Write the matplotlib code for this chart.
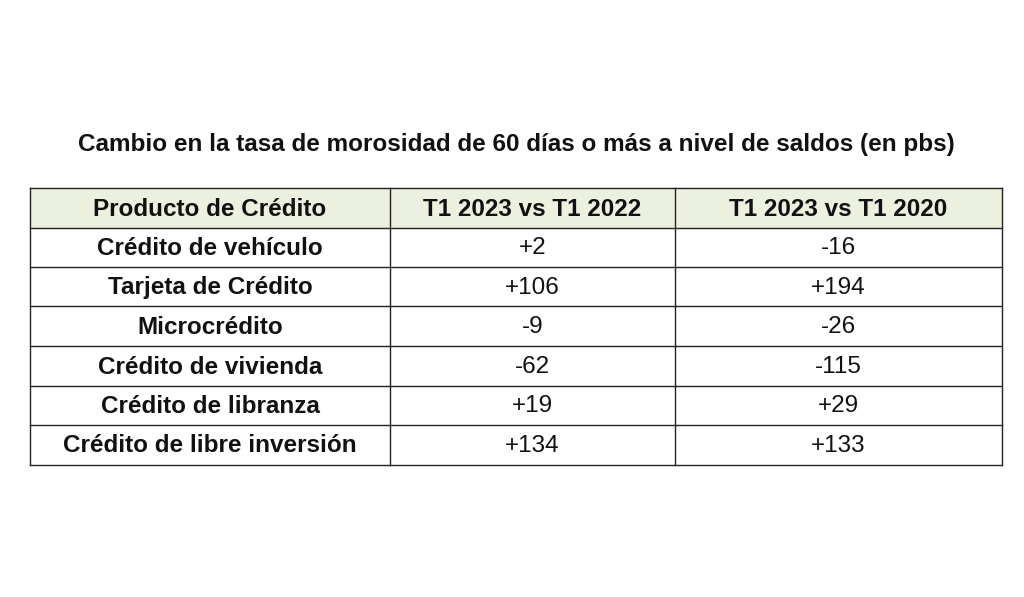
import matplotlib.pyplot as plt

title = "Cambio en la tasa de morosidad de 60 días o más a nivel de saldos (en pbs)"
headers = ["Producto de Crédito", "T1 2023 vs T1 2022", "T1 2023 vs T1 2020"]
products = ["Crédito de vehículo", "Tarjeta de Crédito", "Microcrédito",
            "Crédito de vivienda", "Crédito de libranza", "Crédito de libre inversión"]
vs_2022 = ["+2", "+106", "-9", "-62", "+19", "+134"]
vs_2020 = ["-16", "+194", "-26", "-115", "+29", "+133"]

plt.rcParams['font.family'] = ['Liberation Sans', 'DejaVu Sans']

fig = plt.figure(figsize=(10.24, 5.97), dpi=100)
ax = fig.add_axes([0, 0, 1, 1])
ax.set_xlim(0, 1024)
ax.set_ylim(597, 0)
ax.axis('off')

col_x = [30, 390, 675, 1002]
row_y = [188, 228, 267, 306, 346, 386, 425, 465]

ax.text(516, 144, title, ha='center', va='center', fontsize=17.5, fontweight='bold',
        color='#111111')
ax.fill_between([col_x[0], col_x[-1]], row_y[0], row_y[1], color='#ebf1de', zorder=0)

for x in col_x:
    ax.plot([x, x], [row_y[0], row_y[-1]], color='#222222', lw=1)
for y in row_y:
    ax.plot([col_x[0], col_x[-1]], [y, y], color='#222222', lw=1)

rows = [headers] + [[p, a, b] for p, a, b in zip(products, vs_2022, vs_2020)]
for i, row in enumerate(rows):
    yc = (row_y[i] + row_y[i + 1]) / 2 + 1
    for j, txt in enumerate(row):
        xc = (col_x[j] + col_x[j + 1]) / 2
        bold = (i == 0) or (j == 0)
        ax.text(xc, yc, txt, ha='center', va='center', fontsize=17.5, color='#111111',
                fontweight='bold' if bold else 'normal')

fig.savefig('out.png', dpi=100)
